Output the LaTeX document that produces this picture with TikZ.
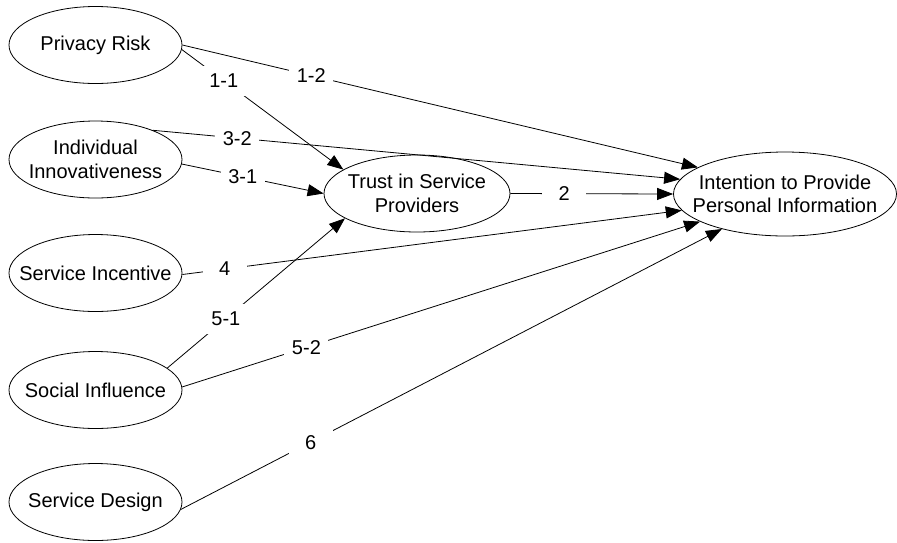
\documentclass[tikz,border=0pt]{standalone}
\usepackage{fontspec}
\setmainfont{Liberation Sans}
\usetikzlibrary{shapes.geometric,arrows.meta}

\begin{document}
\begin{tikzpicture}[x=1pt, y=-1pt,
  construct/.style={draw, ellipse, line width=0.8pt, inner sep=0pt,
    minimum width=173pt, minimum height=77pt,
    label={[align=center, font=\fontsize{20}{23.5}\selectfont]center:#1}},
  path/.style={line width=0.8pt, -{Triangle[length=16pt,width=12pt]}},
  coef/.style={fill=white, inner sep=0pt, minimum width=44pt, minimum height=30pt,
    font=\fontsize{20}{24}\selectfont}]
  \useasboundingbox (0,0) rectangle (897,542);

  % antecedents
  \node[construct={Privacy Risk}] (risk) at (95.5,45) {};
  \node[construct={Individual\\Innovativeness}] (innov) at (95.5,159.5) {};
  \node[construct={Service Incentive}] (incent) at (95.5,273) {};
  \node[construct={Social Influence}] (social) at (95.5,390) {};
  \node[construct={Service Design}] (design) at (95.5,502) {};

  % mediator and outcome
  \node[construct={Trust in Service\\Providers}, minimum width=186pt] (trust) at (417,193.5) {};
  \node[construct={Intention to Provide\\Personal Information}, minimum width=223pt,
    minimum height=84pt] (intent) at (785,194) {};

  % hypotheses
  \draw[path] (risk.-3) -- node[coef, pos=0.26] {1-1} (trust.162);
  \draw[path] (risk.east) -- node[coef, pos=0.25] {1-2} (intent.163);
  \draw[path] (innov.27) -- node[coef, pos=0.16] {3-2} (intent.172.5);
  \draw[path] (innov.-3) -- node[coef, pos=0.43] {3-1} (trust.west);
  \draw[path] (trust.east) -- node[coef, pos=0.33] {2} (intent.west);
  \draw[path] (incent.-1) -- node[coef, pos=0.085] {4} (intent.189);
  \draw[path] (social.17.6) -- node[coef, pos=0.33] {5-1} (trust.199.5);
  \draw[path] (social.2.5) -- node[coef, pos=0.24] {5-2} (intent.198);
  \draw[path] (design.-5) -- node[coef, pos=0.24] {6} (intent.209);
\end{tikzpicture}
\end{document}
